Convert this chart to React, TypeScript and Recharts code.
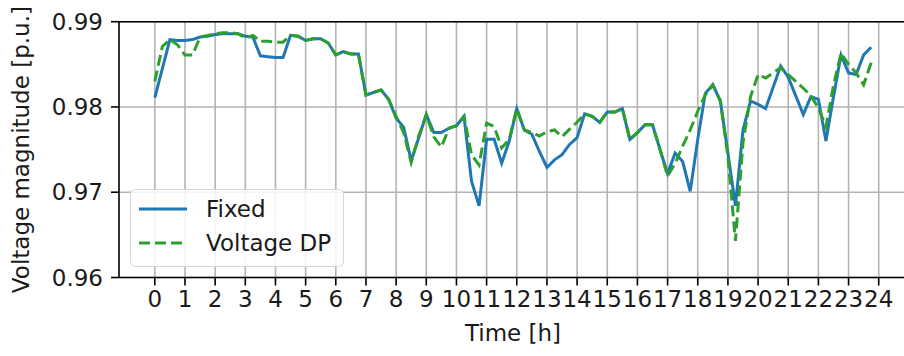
import {
  LineChart,
  Line,
  XAxis,
  YAxis,
  CartesianGrid,
  Legend,
  ReferenceLine,
  Label,
} from "recharts";

// one sample every 15 minutes, 00:00 .. 23:45
const STEP_H = 0.25;

const FIXED = [
  0.9811, 0.9845, 0.9879, 0.9878,
  0.9878, 0.9879, 0.9882, 0.9883,
  0.9885, 0.9886, 0.9886, 0.9886,
  0.9883, 0.9882, 0.986, 0.9859,
  0.9858, 0.9858, 0.9884, 0.9883,
  0.9878, 0.988, 0.988, 0.9875,
  0.9861, 0.9865, 0.9862, 0.9862,
  0.9814, 0.9817, 0.982, 0.9809,
  0.9787, 0.9776, 0.9737, 0.9764,
  0.9791, 0.977, 0.977, 0.9775,
  0.9778, 0.9789, 0.9713, 0.9684,
  0.9762, 0.9762, 0.9734, 0.976,
  0.9798, 0.9773, 0.9768, 0.9748,
  0.9729, 0.9738, 0.9744, 0.9756,
  0.9764, 0.9792, 0.9789, 0.9782,
  0.9794, 0.9794, 0.9798, 0.9762,
  0.977, 0.9779, 0.9779, 0.975,
  0.9722, 0.9746, 0.9736, 0.9701,
  0.9762, 0.9816, 0.9826, 0.9807,
  0.9746, 0.9684, 0.9773, 0.9807,
  0.9803, 0.9798, 0.9823, 0.9848,
  0.9835, 0.9813, 0.9791, 0.9812,
  0.9809, 0.976, 0.9812, 0.9861,
  0.984, 0.9838, 0.9861, 0.987,
];

const VOLTAGE_DP = [
  0.983, 0.9871, 0.9879, 0.9873,
  0.9861, 0.9861, 0.9882, 0.9884,
  0.9886, 0.9887, 0.9887, 0.9886,
  0.9881, 0.9884, 0.9877, 0.9877,
  0.9876, 0.9876, 0.9884, 0.9883,
  0.9878, 0.988, 0.988, 0.9875,
  0.9861, 0.9865, 0.9862, 0.9862,
  0.9814, 0.9817, 0.982, 0.9809,
  0.9789, 0.977, 0.9735, 0.9766,
  0.9791, 0.9765, 0.9753, 0.9775,
  0.9778, 0.9789, 0.9744, 0.9732,
  0.9781, 0.9777, 0.9752, 0.9762,
  0.9798, 0.9773, 0.977, 0.9766,
  0.9771, 0.9773, 0.9765, 0.9774,
  0.9782, 0.9792, 0.9789, 0.9782,
  0.9794, 0.9794, 0.9798, 0.9762,
  0.977, 0.9779, 0.9779, 0.975,
  0.9719, 0.9734, 0.9754, 0.9773,
  0.9795, 0.9814, 0.9826, 0.9807,
  0.9742, 0.9643, 0.9758, 0.9812,
  0.9838, 0.9834, 0.984, 0.9846,
  0.9838, 0.983, 0.9822, 0.9813,
  0.9799, 0.9777, 0.9825, 0.9863,
  0.985, 0.984, 0.9826, 0.9852,
];

const HOUR_TICKS = [
  0, 1, 2, 3, 4, 5, 6, 7, 8, 9, 10, 11, 12, 13, 14, 15, 16, 17, 18, 19, 20,
  21, 22, 23, 24,
];
const VOLT_TICKS = [0.96, 0.97, 0.98, 0.99];

const SERIES = [
  { key: "fixed", name: "Fixed", color: "#1f77b4", dash: undefined },
  { key: "dp", name: "Voltage DP", color: "#2ca02c", dash: "11 5" },
];

const data = FIXED.map((v, i) => ({
  t: i * STEP_H,
  fixed: v,
  dp: VOLTAGE_DP[i],
}));

const FONT = "'DejaVu Sans', sans-serif";
const INK = "#1a1a1a";
const tickStyle = { fontFamily: FONT, fontSize: 23, fill: INK };
const spine = { stroke: "#000", strokeWidth: 1.6 };

function LegendBox() {
  return (
    <svg width={214} height={78} style={{ display: "block" }}>
      <rect
        x={0.5}
        y={0.5}
        width={213}
        height={77}
        rx={5}
        fill="#fff"
        fillOpacity={0.85}
        stroke="#d6d6d6"
      />
      {SERIES.map((s, i) => (
        <g key={s.key}>
          <line
            x1={9}
            x2={57}
            y1={20 + i * 34}
            y2={20 + i * 34}
            stroke={s.color}
            strokeWidth={3}
            strokeDasharray={s.dash}
          />
          <text
            x={76}
            y={28 + i * 34}
            fontFamily={FONT}
            fontSize={23}
            fill={INK}
          >
            {s.name}
          </text>
        </g>
      ))}
    </svg>
  );
}

export default function App() {
  return (
    <div
      style={{
        position: "fixed",
        left: 0,
        top: 0,
        width: 904,
        height: 356,
        overflow: "hidden",
        background: "#fff",
      }}
    >
      <LineChart
        width={920}
        height={356}
        data={data}
        margin={{ top: 21.7, right: 13, bottom: 28.5, left: 59 }}
      >
        <CartesianGrid stroke="#b4b4b4" strokeWidth={1.6} syncWithTicks />
        <XAxis
          dataKey="t"
          type="number"
          domain={[-1.1875, 24.9375]}
          ticks={HOUR_TICKS}
          interval={0}
          allowDataOverflow
          height={50}
          tick={tickStyle}
          tickSize={8}
          tickMargin={5}
          axisLine={spine}
          tickLine={spine}
        >
          <Label
            content={({ viewBox }: any) => (
              <text
                x={viewBox.x + viewBox.width / 2}
                y={viewBox.y + 63}
                textAnchor="middle"
                fontFamily={FONT}
                fontSize={23}
                fill={INK}
              >
                Time [h]
              </text>
            )}
          />
        </XAxis>
        <YAxis
          type="number"
          domain={[0.96, 0.99]}
          ticks={VOLT_TICKS}
          allowDataOverflow
          width={60}
          tick={tickStyle}
          tickFormatter={(v: number) => v.toFixed(2)}
          tickSize={8}
          tickMargin={8}
          axisLine={spine}
          tickLine={spine}
        >
          <Label
            content={({ viewBox }: any) => {
              const cy = viewBox.y + viewBox.height / 2;
              return (
                <text
                  x={29}
                  y={cy}
                  transform={`rotate(-90 29 ${cy})`}
                  textAnchor="middle"
                  fontFamily={FONT}
                  fontSize={23}
                  fill={INK}
                >
                  Voltage magnitude [p.u.]
                </text>
              );
            }}
          />
        </YAxis>
        <ReferenceLine y={0.99} {...spine} />
        {SERIES.map((s) => (
          <Line
            key={s.key}
            type="linear"
            dataKey={s.key}
            name={s.name}
            stroke={s.color}
            strokeWidth={3}
            strokeDasharray={s.dash}
            dot={false}
            activeDot={false}
            isAnimationActive={false}
          />
        ))}
        <Legend
          layout="horizontal"
          align="center"
          verticalAlign="middle"
          content={() => <LegendBox />}
          wrapperStyle={{ left: 130, top: 189, width: 214, height: 78 }}
        />
      </LineChart>
    </div>
  );
}
